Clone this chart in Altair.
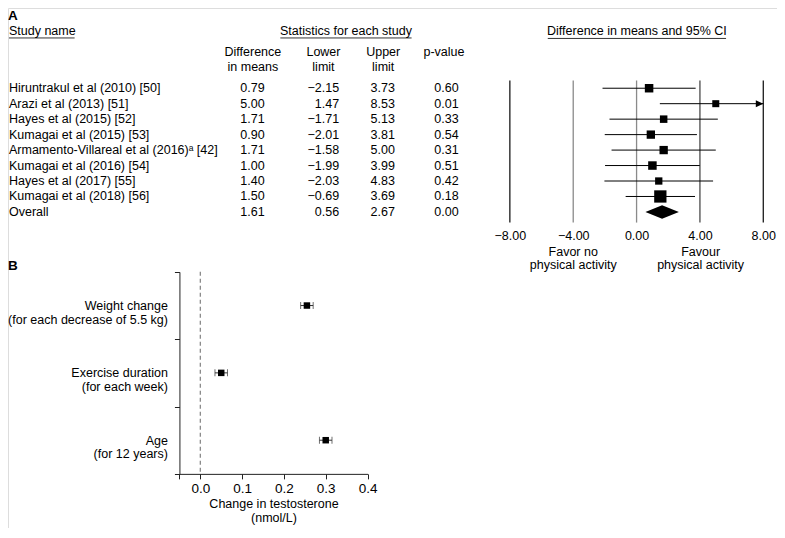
import altair as alt
import pandas as pd

# ---------------- data ----------------
studies = [
    "Hiruntrakul et al (2010) [50]",
    "Arazi et al (2013) [51]",
    "Hayes et al (2015) [52]",
    "Kumagai et al (2015) [53]",
    "Armamento-Villareal et al (2016)\u1d43 [42]",
    "Kumagai et al (2016) [54]",
    "Hayes et al (2017) [55]",
    "Kumagai et al (2018) [56]",
]
diff = [0.79, 5.00, 1.71, 0.90, 1.71, 1.00, 1.40, 1.50]
lower = [-2.15, 1.47, -1.71, -2.01, -1.58, -1.99, -2.03, -0.69]
upper = [3.73, 8.53, 5.13, 3.81, 5.00, 3.99, 4.83, 3.69]
pval = [0.60, 0.01, 0.33, 0.54, 0.31, 0.51, 0.42, 0.18]
weight = [12.2, 8.3, 9.5, 11.7, 11.7, 12.2, 9.0, 25.5]  # relative weight (%)

overall_name = "Overall"
overall_diff, overall_lower, overall_upper, overall_p = 1.61, 0.56, 2.67, 0.00

forest_ticks = [-8, -4, 0, 4, 8]
FOREST_MIN, FOREST_MAX = -8, 8

factors = [
    "Weight change\n(for each decrease of 5.5 kg)",
    "Exercise duration\n(for each week)",
    "Age\n(for 12 years)",
]
effect = [0.255, 0.05, 0.30]
effect_lo = [0.24, 0.035, 0.285]
effect_hi = [0.27, 0.065, 0.315]
b_ticks = [-0.05, 0.0, 0.1, 0.2, 0.3, 0.4]
B_MIN, B_MAX = -0.05, 0.4

# ---------------- layout helpers ----------------
W, H = 769, 520
SX, SY = W / 785, H / 538
FONT = "Liberation Sans"
FS = 12.5


def X(v):
    return round(v * SX, 2)


def Y(v):
    return round(v * SY, 2)


rows = pd.DataFrame({
    "study": studies + [overall_name],
    "diff": diff + [overall_diff],
    "lower": lower + [overall_lower],
    "upper": upper + [overall_upper],
    "p": pval + [overall_p],
})
sdf = pd.DataFrame({"study": studies, "diff": diff, "lower": lower,
                    "upper": upper, "weight": weight})
sdf["upper_shown"] = sdf["upper"].clip(upper=FOREST_MAX)
arrow_df = sdf[sdf["upper"] > FOREST_MAX].assign(edge=FOREST_MAX)

row_domain = studies + [overall_name]


def row_y():
    return alt.Y("study:N", scale=alt.Scale(type="point", domain=row_domain,
                                            range=[Y(83), Y(211)], padding=0),
                 axis=None)


fx = alt.Scale(domain=[FOREST_MIN, FOREST_MAX], range=[X(512.3), X(771)],
               nice=False, zero=False)


def label(text, x, y, size=FS, align="center", weight="normal"):
    return alt.Chart(pd.DataFrame({"t": [text]})).mark_text(
        align=align, baseline="middle", font=FONT, fontSize=size,
        fontWeight=weight, color="black"
    ).encode(x=alt.value(X(x)), y=alt.value(Y(y)), text="t:N")


def underline(x1, x2, y):
    return alt.Chart(pd.DataFrame({"a": [0]})).mark_rule(
        color="black", strokeWidth=0.8
    ).encode(x=alt.value(X(x1)), x2=alt.value(X(x2)), y=alt.value(Y(y)))


# ---------------- panel A: forest ----------------
ref_lines = alt.Chart(pd.DataFrame({"v": forest_ticks})).mark_rule(strokeWidth=1.3).encode(
    x=alt.X("v:Q", scale=fx, axis=alt.Axis(
        orient="bottom", offset=Y(222) - H, values=forest_ticks, format=".2f",
        domain=False, ticks=False, tickSize=0, grid=False, labels=True, labelPadding=7,
        labelFont=FONT, labelFontSize=FS, labelColor="black", labelFlush=False,
        labelOverlap=False, title=None)),
    y=alt.value(Y(75)), y2=alt.value(Y(222)),
    color=alt.value("#8a8a8a", condition=[
        {"test": "abs(datum.v) == 8", "value": "#1a1a1a"},
        {"test": "datum.v == 4", "value": "#4a4a4a"},
    ]),
)

ci_lines = alt.Chart(sdf).mark_rule(color="black", strokeWidth=1).encode(
    x=alt.X("lower:Q", scale=fx, axis=None), x2="upper_shown:Q", y=row_y())

squares = alt.Chart(sdf).mark_square(color="black", filled=True, opacity=1).encode(
    x=alt.X("diff:Q", scale=fx, axis=None), y=row_y(),
    size=alt.Size("weight:Q", scale=alt.Scale(domain=[0, max(weight)], range=[0, 151], zero=True),
                  legend=None))

arrows = alt.Chart(arrow_df).mark_point(
    shape="M -1 -0.47 L 0 0 L -1 0.47 Z", filled=True, color="black", opacity=1, size=225
).encode(x=alt.X("edge:Q", scale=fx, axis=None), y=row_y())

dia_df = pd.DataFrame({"x": [overall_lower, overall_diff, overall_upper],
                       "top": [0, 1, 0], "bot": [0, -1, 0]})
diamond = alt.Chart(dia_df).mark_area(color="black", orient="vertical", opacity=1).encode(
    x=alt.X("x:Q", scale=fx, axis=None),
    y=alt.Y("top:Q", scale=alt.Scale(domain=[-1, 1], range=[Y(218), Y(204)], nice=False, zero=False),
            axis=None),
    y2="bot:Q")

# ---------------- panel A: table ----------------
names = alt.Chart(rows).mark_text(align="left", baseline="middle", font=FONT, fontSize=FS,
                                  color="black").encode(
    x=alt.value(X(1)), y=row_y(), text="study:N")


def numcol(field, right):
    return alt.Chart(rows).mark_text(align="right", baseline="middle", font=FONT, fontSize=FS,
                                     color="black").encode(
        x=alt.value(X(right)), y=row_y(), text=alt.Text(f"{field}:Q", format=".2f"))


table = [names, numcol("diff", 262), numcol("lower", 338), numcol("upper", 395), numcol("p", 460)]

headers = [
    label("A", 0, 8, size=13.5, align="left", weight="bold"),
    label("Study name", 1, 24, align="left"), underline(1, 68, 31),
    label("Statistics for each study", 345, 24), underline(278, 412, 31),
    label("Difference in means and 95% CI", 642, 24), underline(551, 733, 31.5),
    label("Difference", 250, 46), label("in means", 250, 61),
    label("Lower", 322, 46), label("limit", 322, 61),
    label("Upper", 383, 46), label("limit", 383, 61),
    label("p-value", 445, 46),
    label("Favor no", 577, 252), label("physical activity", 577, 266),
    label("Favour", 707, 252), label("physical activity", 707, 266),
    label("B", 0, 267, size=13.5, align="left", weight="bold"),
]

# ---------------- panel B ----------------
bdf = pd.DataFrame({"factor": factors, "est": effect, "lo": effect_lo, "hi": effect_hi})
fbx = alt.Scale(domain=[B_MIN, B_MAX], range=[X(175), X(367)], nice=False, zero=False)
fby = alt.Scale(type="band", domain=factors, range=[Y(273), Y(482)],
                paddingInner=0, paddingOuter=0)

b_zero = alt.Chart(pd.DataFrame({"z": [0.0]})).mark_rule(
    color="#8a8a8a", strokeDash=[4, 3], strokeWidth=1.3
).encode(x=alt.X("z:Q", scale=fbx, axis=None), y=alt.value(Y(273)), y2=alt.value(Y(482)))

b_err = alt.Chart(bdf).mark_rule(color="#333333", strokeWidth=1).encode(
    x=alt.X("lo:Q", scale=fbx, axis=alt.Axis(
        orient="bottom", offset=Y(482) - H, values=b_ticks,
        labelExpr="datum.value < 0 ? '' : format(datum.value, '.1f')",
        domain=True, ticks=True, labels=True,
        tickSize=5, labelPadding=3, labelFont=FONT, labelFontSize=13.5, labelColor="black",
        labelFlush=False, labelOverlap=False, domainColor="#222222", tickColor="#222222",
        grid=False, title=["Change in testosterone", "(nmol/L)"], titleFont=FONT,
        titleFontSize=FS, titleFontWeight="normal", titleColor="black", titlePadding=2,
        titleLineHeight=14)),
    x2="hi:Q",
    y=alt.Y("factor:N", scale=fby, axis=alt.Axis(
        orient="left", offset=-X(175), tickBand="extent", tickSize=5, labelPadding=7,
        domain=True, ticks=True, labels=True,
        labelExpr="split(datum.label, '\\n')", labelAlign="right", labelBaseline="middle",
        labelLineHeight=13.5, labelFont=FONT, labelFontSize=FS, labelColor="black",
        domainColor="#222222", tickColor="#222222", grid=False, title=None)),
)

b_caps = alt.Chart(bdf).transform_fold(["lo", "hi"], as_=["end", "val"]).mark_tick(
    color="#333333", thickness=1, size=7
).encode(x=alt.X("val:Q", scale=fbx, axis=None), y=alt.Y("factor:N", scale=fby, axis=None))

b_pts = alt.Chart(bdf).mark_square(color="black", filled=True, opacity=1, size=42).encode(
    x=alt.X("est:Q", scale=fbx, axis=None), y=alt.Y("factor:N", scale=fby, axis=None))

layers = [ref_lines, ci_lines, squares, arrows, diamond] + table + headers + \
         [b_zero, b_err, b_caps, b_pts]

chart = alt.layer(*layers).resolve_scale(
    x="independent", y="independent", size="independent"
).properties(
    width=W, height=H, padding=0, autosize=alt.AutoSizeParams(type="none")
).configure_view(stroke=None).configure(font=FONT).configure_axis(
    domain=False, ticks=False, labels=False, grid=False, title=None
)

chart.save("out.html", embed_options={"renderer": "svg", "actions": False})
